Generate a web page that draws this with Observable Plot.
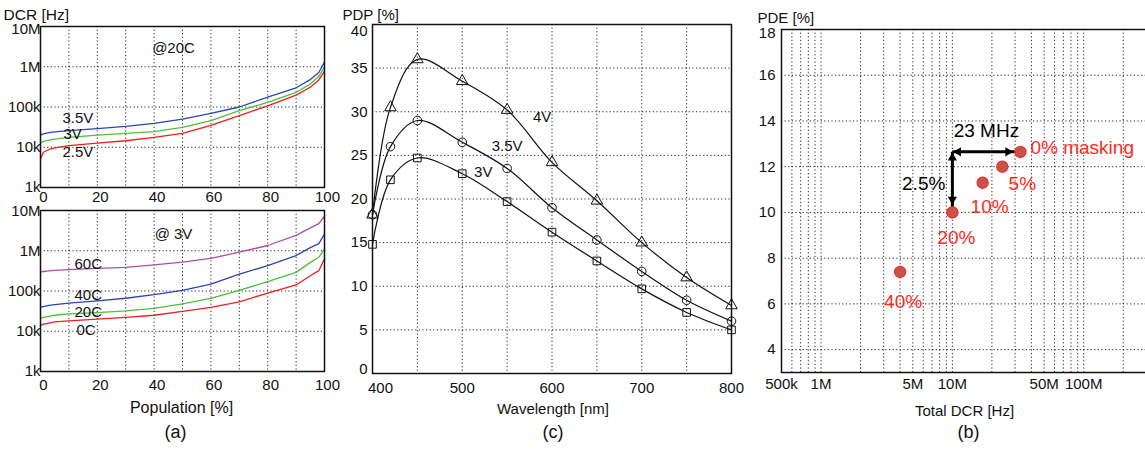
<!DOCTYPE html>
<html>
<head>
<meta charset="utf-8">
<script src="https://cdn.jsdelivr.net/npm/d3@7"></script>
<script src="https://cdn.jsdelivr.net/npm/@observablehq/plot@0.6"></script>
<style>
  html, body { margin: 0; padding: 0; background: #fff; }
  #wrap { position: relative; width: 1145px; height: 454px; overflow: hidden; background: #fff; }
  #wrap svg { position: absolute; overflow: visible; }
</style>
</head>
<body>
<div id="wrap"></div>
<script>
// ---------- Panel (a): DCR vs population ----------
const popPct = [0, 1, 3, 5, 10, 20, 30, 40, 50, 60, 70, 80, 90, 95, 98, 100];
// @20C
const dcr35V = [20e3, 21.5e3, 23e3, 24e3, 26e3, 29e3, 33e3, 39e3, 50e3, 69e3, 100e3, 175e3, 300e3, 480e3, 720e3, 1.3e6];
const dcr3V  = [12.6e3, 14e3, 15e3, 16e3, 17.5e3, 20e3, 22e3, 24.5e3, 31e3, 46e3, 81e3, 131e3, 232e3, 374e3, 570e3, 1.0e6];
const dcr25V = [5.1e3, 7.5e3, 8.8e3, 9.6e3, 11e3, 12.6e3, 14.5e3, 17.5e3, 22e3, 35e3, 61e3, 107e3, 198e3, 310e3, 470e3, 780e3];
// @3V
const dcr60C = [300e3, 305e3, 315e3, 325e3, 340e3, 365e3, 385e3, 445e3, 520e3, 650e3, 920e3, 1.35e6, 2.4e6, 3.7e6, 4.7e6, 7.2e6];
const dcr40C = [39e3, 41e3, 44e3, 46e3, 50e3, 57e3, 66e3, 81e3, 104e3, 149e3, 263e3, 425e3, 760e3, 1.2e6, 1.5e6, 2.6e6];
const dcr20C = [21e3, 22e3, 23.5e3, 25e3, 27e3, 29e3, 32e3, 37e3, 48e3, 66e3, 103e3, 171e3, 290e3, 515e3, 690e3, 1.1e6];
const dcr0C  = [14e3, 15e3, 16e3, 17e3, 18e3, 20e3, 22e3, 25e3, 31e3, 39e3, 54e3, 89e3, 141e3, 240e3, 320e3, 630e3];
const dcrTicks = [1e3, 1e4, 1e5, 1e6, 1e7];
const dcrTickLabels = ["1k", "10k", "100k", "1M", "10M"];
const popTicks = [0, 20, 40, 60, 80, 100];
const popGrid = [10, 20, 30, 40, 50, 60, 70, 80, 90];

// ---------- Panel (c): PDP vs wavelength ----------
const wavelength = [400, 420, 450, 500, 550, 600, 650, 700, 750, 800];
const pdp4V  = [18.2, 30.5, 36.0, 33.5, 30.2, 24.2, 19.8, 15.0, 11.0, 7.8];
const pdp35V = [18.2, 26.0, 29.0, 26.5, 23.5, 19.0, 15.3, 11.7, 8.4, 6.0];
const pdp3V  = [14.8, 22.2, 24.7, 22.9, 19.7, 16.2, 12.9, 9.7, 7.0, 5.0];
const wlTicks = [400, 500, 600, 700, 800];
const wlGrid = [450, 500, 550, 600, 650, 700, 750];
const pdpTicks = [0, 5, 10, 15, 20, 25, 30, 35, 40];

// ---------- Panel (b): PDE vs total DCR ----------
const masking = ["0%", "5%", "10%", "20%", "40%"];
const totalDcr = [33e6, 24e6, 17e6, 10e6, 4e6];
const pde = [12.65, 12.0, 11.3, 10.0, 7.4];
const tdTicks = [5e5, 1e6, 5e6, 1e7, 5e7, 1e8];
const tdTickLabels = ["500k", "1M", "5M", "10M", "50M", "100M"];
const pdeTicks = [4, 6, 8, 10, 12, 14, 16, 18];

const FONT = "'Liberation Sans', Arial, Helvetica, sans-serif";
const wrap = document.getElementById("wrap");
const gridStyle = {stroke: "#000", strokeOpacity: 0.85, strokeWidth: 1, strokeDasharray: "1.2,2.4"};
const ink = "#111";

function place(svg, left, top) {
  svg.style.left = left + "px";
  svg.style.top = top + "px";
  wrap.appendChild(svg);
}
// a free-standing title placed relative to the frame
function title(text, frameAnchor, opts) {
  return Plot.text([text], {frameAnchor, text: d => d, fill: ink, fontSize: 15, ...opts});
}

function toRows(series) {
  const rows = [];
  for (const [name, vals] of series) popPct.forEach((p, i) => rows.push({pop: p, dcr: vals[i], series: name}));
  return rows;
}

function dcrPanel(series, colors, cond, seriesLabels, isTop) {
  const rows = toRows(series);
  const names = series.map(s => s[0]);
  const firsts = series.map(s => ({series: s[0], pop: popPct[0], dcr: s[1][0]}));
  const fmt = d => dcrTickLabels[dcrTicks.indexOf(d)];
  const extra = isTop
    ? [title("DCR [Hz]", "top-left", {textAnchor: "start", dx: -37, dy: -18, fontSize: 15.5})]
    : [title("Population [%]", "bottom", {dx: -1, dy: 41, fontSize: 16}),
       title("(a)", "bottom", {dx: -7, dy: 66, fontSize: 18})];
  return Plot.plot({
    width: 340, height: 200,
    marginLeft: 40, marginRight: 16, marginTop: isTop ? 26 : 10, marginBottom: isTop ? 13 : 29,
    style: {fontFamily: FONT, fontSize: "15px", color: ink, background: "transparent"},
    x: {domain: [0, 100], axis: null},
    y: {type: "log", domain: [1e3, 1e7], axis: null},
    color: {domain: names, range: colors},
    marks: [
      Plot.gridX(popGrid, gridStyle),
      Plot.gridY([1e4, 1e5, 1e6], gridStyle),
      Plot.line(rows, {x: "pop", y: "dcr", stroke: "series", strokeWidth: 1.3}),
      ...seriesLabels.map(([name, dx, dy]) =>
        Plot.text(firsts.filter(f => f.series === name), {x: "pop", y: "dcr", text: "series",
          textAnchor: "start", dx, dy, fontSize: 15, fill: ink})),
      title(cond, "top", {dx: -9, dy: isTop ? 16 : 18}),
      Plot.frame({stroke: ink, strokeWidth: 1.5}),
      Plot.axisY(dcrTicks.filter(t => t < 1e7), {tickSize: 0, tickPadding: 0, tickFormat: fmt, label: null}),
      Plot.axisY([1e7], {tickSize: 0, tickPadding: 0, tickFormat: fmt, label: null, dy: isTop ? 3 : 1}),
      Plot.axisX(popTicks, {tickSize: 0, tickPadding: isTop ? 4 : 8, label: null, dx: 3}),
      ...extra
    ]
  });
}

place(dcrPanel([["3.5V", dcr35V], ["3V", dcr3V], ["2.5V", dcr25V]],
  ["#2b45b0", "#4cc03c", "#f01e1e"], "@20C",
  [["3.5V", 22, -17], ["3V", 23, -9], ["2.5V", 22, -7]], true), 0, 0);

place(dcrPanel([["60C", dcr60C], ["40C", dcr40C], ["20C", dcr20C], ["0C", dcr0C]],
  ["#b04ca8", "#2b45b0", "#4cc03c", "#f01e1e"], "@ 3V",
  [["60C", 34, -8], ["40C", 34, -12], ["20C", 34, -6], ["0C", 36, 5]], false), 0, 200);

// ---------- Panel (c) ----------
{
  const series = [["4V", pdp4V, "triangle"], ["3.5V", pdp35V, "circle"], ["3V", pdp3V, "square"]];
  const rows = [];
  for (const [name, vals] of series) wavelength.forEach((w, i) => rows.push({wl: w, pdp: vals[i], series: name}));
  const at = (name, w) => rows.filter(r => r.series === name && r.wl === w);
  const svg = Plot.plot({
    width: 420, height: 400,
    marginLeft: 32, marginRight: 29, marginTop: 24, marginBottom: 27,
    style: {fontFamily: FONT, fontSize: "15px", color: ink, background: "transparent"},
    x: {domain: [400, 800], axis: null},
    y: {domain: [0, 40], axis: null},
    symbol: {domain: series.map(s => s[0]), range: series.map(s => s[2])},
    marks: [
      Plot.gridX(wlGrid, gridStyle),
      Plot.gridY(pdpTicks.filter(t => t > 0 && t < 40), gridStyle),
      Plot.line(rows, {x: "wl", y: "pdp", z: "series", curve: "catmull-rom", stroke: ink, strokeWidth: 1.2}),
      Plot.dot(rows, {x: "wl", y: "pdp", symbol: "series", r: 4.3, stroke: ink, strokeWidth: 1, fill: "none"}),
      Plot.text(at("4V", 550), {x: "wl", y: "pdp", text: "series", dx: 35, dy: 7, fontSize: 15, fill: ink}),
      Plot.text(at("3.5V", 550), {x: "wl", y: "pdp", text: "series", dx: 0, dy: -22, fontSize: 15, fill: ink}),
      Plot.text(at("3V", 500), {x: "wl", y: "pdp", text: "series", dx: 21, dy: -2, fontSize: 15, fill: ink}),
      Plot.frame({stroke: ink, strokeWidth: 1.5}),
      Plot.axisY(pdpTicks.filter(t => t > 0 && t < 40), {tickSize: 0, tickPadding: 5, label: null}),
      Plot.axisY([40], {tickSize: 0, tickPadding: 5, label: null, dy: 7}),
      Plot.axisY([0], {tickSize: 0, tickPadding: 5, label: null, dy: -4}),
      Plot.axisX(wlTicks.filter(t => t > 400), {tickSize: 0, tickPadding: 9, label: null}),
      Plot.axisX([400], {tickSize: 0, tickPadding: 9, label: null, dx: 8}),
      title("PDP [%]", "top-left", {textAnchor: "start", dx: -30, dy: -15}),
      title("Wavelength [nm]", "bottom", {dx: 1, dy: 40}),
      title("(c)", "bottom", {dx: 1, dy: 64, fontSize: 18})
    ]
  });
  place(svg, 340, 0);
}

// ---------- Panel (b) ----------
{
  const pts = masking.map((m, i) => ({m, dcr: totalDcr[i], pde: pde[i]}));
  const corner = {x: totalDcr[3], y: pde[0]};
  const hLink = [{x1: corner.x, y1: corner.y, x2: totalDcr[0], y2: pde[0]}];
  const vLink = [{x1: corner.x, y1: corner.y, x2: totalDcr[3], y2: pde[3]}];
  const diffLabel = [{x: Math.sqrt(totalDcr[0] * totalDcr[3]), y: pde[0],
    t: Math.round((totalDcr[0] - totalDcr[3]) / 1e6) + " MHz"}];
  const pdeLabel = [{x: totalDcr[3], y: (pde[0] + pde[3]) / 2,
    t: (Math.round((pde[0] - pde[3]) * 2) / 2).toFixed(1) + "%"}];
  const gridV = [];
  for (const dec of [1e5, 1e6, 1e7]) for (let k = 1; k <= 9; k++) { const v = k * dec; if (v > 5e5) gridV.push(v); }
  gridV.push(1e8, 2e8);
  const pt = i => [pts[i]];
  const red = "#ff2a1c";
  const head = {symbol: "triangle2", r: 4.4, fill: "#000", stroke: "none"};
  const svg = Plot.plot({
    width: 440, height: 400,
    marginLeft: 21, marginRight: 25, marginTop: 29, marginBottom: 28,
    style: {fontFamily: FONT, fontSize: "15px", color: ink, background: "transparent"},
    x: {type: "log", domain: [5e5, 5e8], axis: null},
    y: {domain: [3, 18], axis: null},
    marks: [
      Plot.gridX(gridV, gridStyle),
      Plot.gridY(pdeTicks.filter(t => t < 18), gridStyle),
      Plot.link(hLink, {x1: "x1", y1: "y1", x2: "x2", y2: "y2", stroke: "#000", strokeWidth: 3}),
      Plot.link(vLink, {x1: "x1", y1: "y1", x2: "x2", y2: "y2", stroke: "#000", strokeWidth: 3}),
      Plot.dot(hLink, {x: "x1", y: "y1", rotate: -90, dx: 6, ...head}),
      Plot.dot(hLink, {x: "x2", y: "y2", rotate: 90, dx: -12.5, ...head}),
      Plot.dot(vLink, {x: "x1", y: "y1", rotate: 0, dy: 6, ...head}),
      Plot.dot(vLink, {x: "x2", y: "y2", rotate: 180, dy: -13, ...head}),
      Plot.dot(pts, {x: "dcr", y: "pde", r: 5.6, fill: "#c2554e", stroke: red, strokeWidth: 1.2}),
      Plot.text(diffLabel, {x: "x", y: "y", text: "t", dy: -21, fontSize: 19, fill: "#000"}),
      Plot.text(pdeLabel, {x: "x", y: "y", text: "t", textAnchor: "end", dx: -7, dy: 2, fontSize: 19, fill: "#000"}),
      Plot.text(pt(0), {x: "dcr", y: "pde", text: d => d.m + " masking", textAnchor: "start", dx: 10, dy: -4, fontSize: 19, fill: red}),
      Plot.text(pt(1), {x: "dcr", y: "pde", text: "m", dx: 20, dy: 17, fontSize: 19, fill: red}),
      Plot.text(pt(2), {x: "dcr", y: "pde", text: "m", dx: 7, dy: 24, fontSize: 19, fill: red}),
      Plot.text(pt(3), {x: "dcr", y: "pde", text: "m", dx: 4, dy: 25, fontSize: 19, fill: red}),
      Plot.text(pt(4), {x: "dcr", y: "pde", text: "m", dx: 3, dy: 30, fontSize: 19, fill: red}),
      Plot.frame({stroke: ink, strokeWidth: 1.5}),
      Plot.axisY(pdeTicks.filter(t => t < 18), {tickSize: 0, tickPadding: 6, label: null}),
      Plot.axisY([18], {tickSize: 0, tickPadding: 6, label: null, dy: 4}),
      Plot.text(tdTicks, {x: d => d, frameAnchor: "bottom", dy: 16, fill: ink, fontSize: 15,
        text: d => tdTickLabels[tdTicks.indexOf(d)]}),
      title("PDE [%]", "top-left", {textAnchor: "start", dx: -24, dy: -17}),
      title("Total DCR [Hz]", "bottom", {dx: -14, dy: 43}),
      title("(b)", "bottom", {dx: -10, dy: 65, fontSize: 18})
    ]
  });
  place(svg, 760, 0);
}
</script>
</body>
</html>
